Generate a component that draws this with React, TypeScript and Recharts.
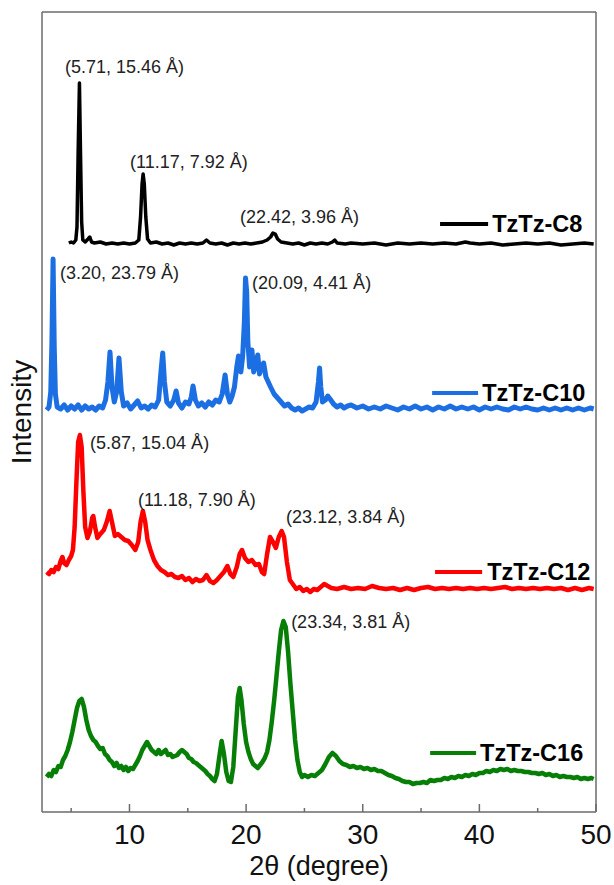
import React from 'react';
import { LineChart, Line, XAxis, YAxis, ReferenceLine, ReferenceDot } from 'recharts';

const FONT = '"Liberation Sans", Arial, Helvetica, sans-serif';

const xTicks = [5, 10, 15, 20, 25, 30, 35, 40, 45, 50];
const xTickLabels = ['', '10', '', '20', '', '30', '', '40', '', '50'];

const seriesNames = ['TzTz-C8', 'TzTz-C10', 'TzTz-C12', 'TzTz-C16'];
const seriesColors = ['#000000', '#1c6fe3', '#ff0000', '#077f07'];
const seriesWidths = [3.5, 5, 4.5, 4.5];

const c8Points: [number, number][] = [
  [4.8, 569], [5.0, 570], [5.2, 569], [5.4, 572], [5.5, 585], [5.6, 660], [5.71, 729], [5.8, 660], [5.9, 590],
  [6.0, 572], [6.2, 570], [6.45, 573], [6.6, 575], [6.75, 570], [7.0, 569], [7.5, 570], [8.0, 568], [8.5, 569],
  [9.0, 568], [9.5, 569], [10.0, 568], [10.5, 569], [10.8, 572], [10.95, 595], [11.08, 628], [11.17, 638],
  [11.27, 628], [11.4, 595], [11.55, 573], [11.8, 569], [12.3, 570], [12.8, 568], [13.3, 569], [13.8, 567],
  [14.3, 569], [14.8, 568], [15.3, 569], [15.8, 568], [16.3, 569], [16.6, 572], [16.9, 569], [17.4, 568],
  [17.9, 569], [18.4, 567], [18.9, 569], [19.4, 568], [19.9, 569], [20.4, 568], [20.9, 569], [21.4, 570],
  [21.8, 572], [22.1, 575], [22.3, 579], [22.5, 578], [22.7, 573], [23.0, 570], [23.5, 569], [24, 568],
  [24.5, 569], [25, 567], [25.5, 569], [26, 568], [26.5, 569], [27, 568], [27.4, 570], [27.6, 572], [27.8, 569],
  [28.5, 568], [29, 569], [30, 568], [31, 569], [32, 567], [33, 569], [34, 568], [35, 569], [36, 568], [37, 569],
  [38, 568], [38.8, 570], [39.2, 569], [40, 568], [41, 569], [42, 567], [43, 568], [44, 569], [45, 568], [46, 569],
  [47, 567], [48, 568], [49, 569], [49.8, 568],
];

const c10Points: [number, number][] = [
  [2.9, 402], [3.1, 405], [3.25, 420], [3.35, 470], [3.45, 553], [3.55, 465], [3.65, 418], [3.8, 405], [4.1, 403],
  [4.4, 407], [4.7, 402], [5.0, 406], [5.3, 403], [5.6, 407], [5.9, 402], [6.2, 406], [6.5, 403], [6.8, 405],
  [7.1, 402], [7.4, 406], [7.7, 404], [7.95, 412], [8.15, 430], [8.33, 460], [8.5, 425], [8.7, 410], [8.9, 420],
  [9.1, 454], [9.3, 420], [9.5, 406], [9.8, 409], [10.1, 403], [10.4, 407], [10.7, 411], [11.0, 404], [11.3, 406],
  [11.6, 403], [11.9, 407], [12.2, 405], [12.5, 412], [12.7, 440], [12.85, 459], [13.0, 430], [13.2, 410],
  [13.5, 406], [13.8, 412], [14.0, 421], [14.2, 409], [14.5, 404], [14.8, 410], [15.1, 408], [15.3, 415],
  [15.45, 426], [15.65, 412], [15.9, 406], [16.2, 409], [16.5, 405], [16.8, 410], [17.1, 407], [17.4, 412],
  [17.7, 410], [17.95, 418], [18.2, 437], [18.4, 418], [18.6, 410], [18.8, 416], [19.0, 425], [19.2, 445],
  [19.35, 456], [19.55, 440], [19.7, 455], [19.85, 490], [19.95, 534], [20.05, 520], [20.15, 470], [20.3, 445],
  [20.5, 462], [20.65, 440], [20.8, 448], [21.0, 457], [21.15, 438], [21.3, 445], [21.5, 449], [21.7, 435],
  [21.9, 430], [22.1, 425], [22.4, 418], [22.7, 414], [23.0, 410], [23.3, 406], [23.6, 408], [23.9, 404],
  [24.2, 402], [24.5, 404], [24.8, 401], [25.1, 403], [25.4, 405], [25.7, 404], [26.0, 410], [26.2, 430],
  [26.3, 444], [26.4, 425], [26.55, 410], [26.8, 412], [27.0, 416], [27.2, 413], [27.5, 408], [27.8, 405],
  [28.1, 407], [28.4, 404], [28.7, 406], [29.0, 407], [29.5, 404], [30.0, 406], [30.5, 403], [31.0, 405],
  [31.5, 403], [32.0, 406], [32.5, 404], [33.0, 402], [33.5, 405], [34.0, 403], [34.5, 406], [35.0, 403],
  [35.5, 405], [36.0, 402], [36.5, 405], [37.0, 403], [37.5, 406], [38.0, 403], [38.5, 405], [39.0, 403],
  [39.5, 405], [40.0, 402], [40.5, 405], [41.0, 403], [41.5, 405], [42.0, 403], [42.5, 402], [43.0, 405],
  [43.5, 403], [44.0, 405], [44.5, 403], [45.0, 402], [45.5, 404], [46.0, 402], [46.5, 404], [47.0, 402],
  [47.5, 404], [48.0, 402], [48.5, 404], [49.0, 402], [49.5, 404], [49.8, 403],
];

const c12Points: [number, number][] = [
  [2.9, 240], [3.1, 238], [3.3, 242], [3.5, 240], [3.7, 245], [3.9, 243], [4.1, 251], [4.25, 255], [4.4, 249],
  [4.6, 247], [4.8, 252], [5.0, 256], [5.15, 262], [5.3, 285], [5.45, 330], [5.6, 370], [5.75, 377], [5.9, 365],
  [6.05, 320], [6.2, 285], [6.4, 274], [6.6, 280], [6.8, 294], [6.9, 296], [7.05, 285], [7.25, 274], [7.5, 278],
  [7.8, 282], [8.05, 290], [8.3, 301], [8.5, 290], [8.75, 276], [9.0, 278], [9.3, 275], [9.6, 272], [9.9, 271],
  [10.2, 267], [10.5, 262], [10.75, 270], [10.95, 290], [11.15, 301], [11.35, 290], [11.55, 272], [11.8, 262],
  [12.1, 252], [12.4, 246], [12.7, 242], [13.0, 240], [13.3, 237], [13.6, 238], [13.9, 235], [14.2, 234],
  [14.5, 236], [14.8, 232], [15.1, 234], [15.4, 230], [15.7, 233], [16.0, 231], [16.3, 232], [16.6, 237],
  [16.9, 231], [17.2, 229], [17.5, 232], [17.8, 236], [18.1, 240], [18.4, 246], [18.65, 238], [18.9, 235],
  [19.2, 245], [19.45, 258], [19.65, 262], [19.9, 254], [20.2, 250], [20.5, 252], [20.8, 247], [21.1, 248],
  [21.35, 240], [21.55, 238], [21.8, 258], [22.05, 275], [22.3, 270], [22.55, 264], [22.8, 275], [23.05, 281],
  [23.25, 275], [23.5, 250], [23.75, 232], [24.0, 228], [24.3, 223], [24.6, 225], [24.9, 221], [25.2, 223],
  [25.5, 220], [25.8, 223], [26.1, 222], [26.4, 225], [26.7, 228], [27.0, 226], [27.3, 224], [27.8, 223],
  [28.4, 225], [29.0, 223], [29.6, 224], [30.2, 223], [30.8, 226], [31.4, 224], [32.0, 223], [32.6, 224],
  [33.2, 222], [33.8, 224], [34.4, 222], [35.0, 224], [35.6, 225], [36.2, 223], [36.8, 224], [37.4, 223],
  [38.0, 224], [38.6, 223], [39.2, 224], [39.8, 223], [40.4, 224], [41.0, 223], [41.6, 224], [42.2, 225],
  [42.8, 223], [43.4, 224], [44.0, 223], [44.6, 224], [45.2, 223], [45.8, 224], [46.4, 223], [47.0, 224],
  [47.6, 222], [48.2, 224], [48.8, 222], [49.4, 224], [49.8, 223],
];

const c16Points: [number, number][] = [
  [2.9, 35], [3.1, 38], [3.3, 36], [3.5, 42], [3.7, 40], [3.9, 46], [4.1, 45], [4.3, 52], [4.5, 56], [4.7, 62],
  [4.9, 70], [5.1, 80], [5.3, 92], [5.5, 104], [5.7, 111], [5.9, 113], [6.1, 105], [6.3, 92], [6.5, 82], [6.7, 76],
  [6.9, 72], [7.1, 70], [7.3, 66], [7.5, 63], [7.7, 64], [7.9, 58], [8.1, 56], [8.3, 52], [8.5, 50], [8.7, 46],
  [8.9, 49], [9.1, 44], [9.3, 46], [9.5, 42], [9.7, 45], [9.9, 41], [10.1, 44], [10.3, 43], [10.5, 47], [10.7, 51],
  [10.9, 56], [11.1, 62], [11.3, 66], [11.5, 70], [11.7, 66], [11.9, 62], [12.1, 60], [12.3, 58], [12.5, 62],
  [12.7, 58], [12.9, 60], [13.1, 62], [13.3, 57], [13.5, 58], [13.7, 55], [13.9, 56], [14.1, 57], [14.3, 60],
  [14.5, 62], [14.7, 60], [14.9, 58], [15.1, 54], [15.3, 53], [15.5, 50], [15.7, 49], [15.9, 47], [16.1, 45],
  [16.3, 43], [16.5, 41], [16.7, 38], [16.9, 36], [17.1, 33], [17.3, 31], [17.5, 38], [17.7, 55], [17.9, 71],
  [18.1, 58], [18.3, 40], [18.5, 31], [18.7, 30], [18.9, 45], [19.1, 80], [19.3, 115], [19.45, 124], [19.6, 112],
  [19.8, 88], [20.0, 70], [20.2, 60], [20.4, 53], [20.6, 48], [20.8, 46], [21.0, 44], [21.2, 47], [21.4, 50],
  [21.6, 54], [21.8, 60], [22.0, 72], [22.2, 90], [22.4, 111], [22.6, 135], [22.8, 160], [23.0, 182], [23.2, 191],
  [23.4, 185], [23.6, 160], [23.8, 128], [24.0, 100], [24.2, 72], [24.4, 52], [24.6, 40], [24.8, 35], [25.0, 37],
  [25.3, 35], [25.6, 37], [25.9, 36], [26.2, 39], [26.5, 42], [26.8, 48], [27.1, 55], [27.4, 59], [27.7, 56],
  [28.0, 51], [28.3, 48], [28.6, 47], [28.9, 45], [29.2, 46], [29.5, 44], [29.8, 45], [30.1, 43], [30.4, 44],
  [30.7, 42], [31.0, 43], [31.3, 41], [31.6, 41], [31.9, 39], [32.2, 37], [32.5, 36], [32.8, 34], [33.1, 33],
  [33.4, 31], [33.7, 30], [34.0, 30], [34.3, 28], [34.6, 29], [34.9, 29], [35.2, 30], [35.5, 29], [35.8, 32],
  [36.1, 31], [36.4, 32], [36.7, 32], [37.0, 34], [37.3, 33], [37.6, 35], [37.9, 34], [38.2, 36], [38.5, 35],
  [38.8, 37], [39.1, 36], [39.4, 38], [39.7, 37], [40.0, 39], [40.3, 39], [40.6, 41], [40.9, 40], [41.2, 42],
  [41.5, 41], [41.8, 43], [42.1, 42], [42.4, 43], [42.7, 41], [43.0, 42], [43.3, 41], [43.6, 41], [43.9, 40],
  [44.2, 40], [44.5, 39], [44.8, 39], [45.1, 38], [45.4, 39], [45.7, 37], [46.0, 38], [46.3, 36], [46.6, 37],
  [46.9, 35], [47.2, 36], [47.5, 35], [47.8, 35], [48.1, 34], [48.4, 35], [48.7, 33], [49.0, 34], [49.3, 33],
  [49.6, 34], [49.8, 33],
];

const peakLabels = [
  '(5.71, 15.46 Å)', '(11.17, 7.92 Å)', '(22.42, 3.96 Å)',
  '(3.20, 23.79 Å)', '(20.09, 4.41 Å)',
  '(5.87, 15.04 Å)', '(11.18, 7.90 Å)', '(23.12, 3.84 Å)',
  '(23.34, 3.81 Å)',
];
const peakLabelX = [4.47, 10.05, 19.48, 4.04, 20.51, 6.62, 10.73, 23.43, 23.86];
const peakLabelY = [745, 650, 595, 539, 529, 369, 312, 295, 190];

const legendX1 = [36.63, 35.95, 36.2, 35.78];
const legendX2 = [40.75, 39.89, 40.24, 39.72];
const legendTextX = [41.1, 40.24, 40.67, 40.06];
const legendY = [588, 419, 240, 59];

const allSeries = [c8Points, c10Points, c12Points, c16Points].map((pts) =>
  pts.map(([x, y]) => ({ x, y }))
);

const AXIS_COLOR = '#6b6b6b';

const XTick = (props: any) => {
  const { x, y, payload } = props;
  const idx = xTicks.indexOf(payload.value);
  const label = idx >= 0 ? xTickLabels[idx] : '';
  const major = label !== '';
  return (
    <g>
      <line x1={x} x2={x} y1={y} y2={y - (major ? 8 : 4)} stroke={AXIS_COLOR} strokeWidth={1.5} />
      {major && (
        <text x={x} y={y + 32} textAnchor="middle" fontSize={28} fontFamily={FONT} fill="#111">
          {label}
        </text>
      )}
    </g>
  );
};

export default function App() {
  return (
    <div style={{ position: 'absolute', left: 0, top: 0, width: 614, height: 885, background: '#fff' }}>
      <LineChart width={614} height={885} margin={{ top: 12, right: 18, left: 0, bottom: 0 }}>
        <XAxis
          type="number"
          dataKey="x"
          domain={[2.5, 50]}
          ticks={xTicks}
          interval={0}
          allowDataOverflow
          height={73}
          tickSize={0}
          tickMargin={0}
          tickLine={false}
          tick={<XTick />}
          axisLine={{ stroke: AXIS_COLOR, strokeWidth: 1.5 }}
          label={{
            value: '2θ (degree)',
            position: 'insideBottom',
            offset: 10,
            fontSize: 27,
            fontFamily: FONT,
            fill: '#111',
          }}
        />
        <YAxis
          type="number"
          domain={[0, 800]}
          width={42}
          tick={false}
          tickLine={false}
          allowDataOverflow
          axisLine={{ stroke: AXIS_COLOR, strokeWidth: 1.5 }}
          label={{
            value: 'Intensity',
            angle: -90,
            position: 'center',
            fontSize: 28,
            fontFamily: FONT,
            fill: '#111',
          }}
        />
        <ReferenceLine y={800} stroke={AXIS_COLOR} strokeWidth={1.5} />
        <ReferenceLine x={50} stroke={AXIS_COLOR} strokeWidth={1.5} />
        {allSeries.map((data, i) => (
          <Line
            key={seriesNames[i]}
            data={data}
            dataKey="y"
            name={seriesNames[i]}
            type="linear"
            stroke={seriesColors[i]}
            strokeWidth={seriesWidths[i]}
            strokeLinejoin="round"
            dot={false}
            activeDot={false}
            isAnimationActive={false}
          />
        ))}
        {seriesNames.map((name, i) => (
          <ReferenceLine
            key={'leg-line-' + name}
            segment={[
              { x: legendX1[i], y: legendY[i] },
              { x: legendX2[i], y: legendY[i] },
            ]}
            stroke={seriesColors[i]}
            strokeWidth={4}
          />
        ))}
        {seriesNames.map((name, i) => (
          <ReferenceDot
            key={'leg-text-' + name}
            x={legendTextX[i]}
            y={legendY[i]}
            r={0}
            shape={(p: any) => (
              <text
                x={p.cx}
                y={p.cy}
                dy="0.36em"
                fontSize={23.5}
                fontWeight="bold"
                fontFamily={FONT}
                fill="#000"
              >
                {name}
              </text>
            )}
          />
        ))}
        {peakLabels.map((t, i) => (
          <ReferenceDot
            key={'peak-' + i}
            x={peakLabelX[i]}
            y={peakLabelY[i]}
            r={0}
            shape={(p: any) => (
              <text x={p.cx} y={p.cy} dy="0.36em" fontSize={18} fontFamily={FONT} fill="#222">
                {t}
              </text>
            )}
          />
        ))}
      </LineChart>
    </div>
  );
}
